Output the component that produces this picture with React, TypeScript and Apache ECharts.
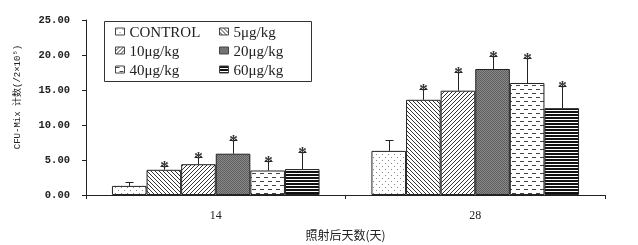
import React, { useEffect, useRef } from "react";
import * as echarts from "echarts";

const categories = ["14", "28"];
const seriesNames = ["CONTROL", "5μg/kg", "10μg/kg", "20μg/kg", "40μg/kg", "60μg/kg"];
const controlValues = [1.3, 6.3];
const dose5Values = [3.6, 13.6];
const dose10Values = [4.4, 14.9];
const dose20Values = [5.9, 18.0];
const dose40Values = [3.5, 16.0];
const dose60Values = [3.7, 12.4];
const controlErr = [0.6, 1.5];
const dose5Err = [0.6, 1.5];
const dose10Err = [1.0, 2.7];
const dose20Err = [2.0, 1.9];
const dose40Err = [1.4, 3.5];
const dose60Err = [2.5, 3.1];
const significant = [false, true, true, true, true, true];
const yTicks = [0, 5, 10, 15, 20, 25];
const yAxisTitle = "CFU-Mix 计数(/2×10⁵)";
const xAxisTitle = "照射后天数(天)";

function makePattern(w: number, h: number, draw: (c: CanvasRenderingContext2D) => void) {
  const cv = document.createElement("canvas");
  cv.width = w;
  cv.height = h;
  const ctx = cv.getContext("2d")!;
  draw(ctx);
  return { image: cv, repeat: "repeat", imageWidth: w, imageHeight: h } as any;
}

export default function App() {
  const ref = useRef<HTMLDivElement>(null);
  useEffect(() => {
    document.body.style.margin = "0";
    document.body.style.overflow = "hidden";
    const chart = echarts.init(ref.current!, null, { renderer: "svg" });

    const patterns = [
      makePattern(6, 6, (c) => {
        c.fillStyle = "#fff";
        c.fillRect(0, 0, 6, 6);
        c.fillStyle = "#888";
        c.fillRect(1, 1, 1, 1);
        c.fillRect(4, 4, 1, 1);
      }),
      makePattern(4, 4, (c) => {
        c.fillStyle = "#fff";
        c.fillRect(0, 0, 4, 4);
        c.fillStyle = "#333";
        for (let i = 0; i < 4; i++) c.fillRect(i, i, 1, 1);
      }),
      makePattern(4, 4, (c) => {
        c.fillStyle = "#fff";
        c.fillRect(0, 0, 4, 4);
        c.fillStyle = "#333";
        for (let i = 0; i < 4; i++) c.fillRect(3 - i, i, 1, 1);
      }),
      makePattern(2, 2, (c) => {
        c.fillStyle = "#8a8a8a";
        c.fillRect(0, 0, 2, 2);
        c.fillStyle = "#5e5e5e";
        c.fillRect(0, 0, 1, 1);
        c.fillRect(1, 1, 1, 1);
      }),
      makePattern(8, 8, (c) => {
        c.fillStyle = "#fff";
        c.fillRect(0, 0, 8, 8);
        c.fillStyle = "#444";
        c.fillRect(0, 1, 4, 1);
        c.fillRect(4, 5, 4, 1);
      }),
      makePattern(1, 3, (c) => {
        c.fillStyle = "#fff";
        c.fillRect(0, 0, 1, 3);
        c.fillStyle = "#111";
        c.fillRect(0, 0, 1, 2);
      }),
    ];

    const values = [controlValues, dose5Values, dose10Values, dose20Values, dose40Values, dose60Values];
    const errs = [controlErr, dose5Err, dose10Err, dose20Err, dose40Err, dose60Err];

    const barSeries = seriesNames.map((name, i) => ({
      name,
      type: "bar",
      data: values[i],
      barGap: "0%",
      barCategoryGap: "20%",
      itemStyle: { color: patterns[i], borderColor: "#222", borderWidth: 1 },
    }));

    const errData: any[] = [];
    values.forEach((vals, si) => {
      vals.forEach((v, ci) => {
        errData.push([ci, v, errs[si][ci], si, significant[si] ? 1 : 0]);
      });
    });

    const errSeries = {
      type: "custom",
      data: errData,
      encode: { x: 0, y: 1 },
      z: 10,
      renderItem: (params: any, api: any) => {
        const ci = api.value(0);
        const v = api.value(1);
        const e = api.value(2);
        const si = api.value(3);
        const star = api.value(4);
        const base = api.coord([ci, v]);
        const top = api.coord([ci, v + e]);
        const bandW = api.size([1, 0])[0];
        const bw = (bandW * 0.8) / 6;
        const x = Math.round(base[0] + (si - 2.5) * bw) + 0.5;
        const ty = Math.round(top[1]) + 0.5;
        const children: any[] = [
          { type: "line", shape: { x1: x, y1: base[1], x2: x, y2: ty }, style: { stroke: "#222", lineWidth: 1 } },
          { type: "line", shape: { x1: x - 4, y1: ty, x2: x + 4, y2: ty }, style: { stroke: "#222", lineWidth: 1 } },
        ];
        if (star) {
          children.push({
            type: "text",
            style: {
              text: "*",
              x,
              y: ty + 8,
              align: "center",
              verticalAlign: "bottom",
              fontSize: 17,
              fontWeight: "bold",
              fontFamily: "Liberation Serif",
              fill: "#333",
            },
          });
        }
        return { type: "group", children };
      },
    };

    const legendCommon = {
      orient: "vertical",
      top: 19,
      itemWidth: 9,
      itemHeight: 7,
      itemGap: 4,
      icon: "rect",
      itemStyle: { borderWidth: 1, borderColor: "#444" },
      textStyle: { fontSize: 15, fontFamily: "Liberation Serif", color: "#222" },
      selectedMode: false,
    };

    chart.setOption({
      animation: false,
      grid: { left: 86, right: 33, top: 20, bottom: 46 },
      legend: [
        { ...legendCommon, left: 110, data: [seriesNames[0], seriesNames[2], seriesNames[4]] },
        { ...legendCommon, left: 214, data: [seriesNames[1], seriesNames[3], seriesNames[5]] },
      ],
      graphic: [
        {
          type: "rect",
          shape: { x: 104.5, y: 21.5, width: 207, height: 60 },
          style: { fill: "none", stroke: "#333", lineWidth: 1 },
          z: 5,
        },
        {
          type: "text",
          x: 18,
          y: 97,
          rotation: Math.PI / 2,
          style: {
            text: yAxisTitle,
            align: "center",
            verticalAlign: "middle",
            fontSize: 9,
            fontFamily: "Liberation Mono, Noto Sans CJK SC",
            fill: "#222",
          },
        },
      ],
      xAxis: {
        type: "category",
        data: categories,
        name: xAxisTitle,
        nameLocation: "middle",
        nameGap: 33,
        nameTextStyle: { fontSize: 12, fontFamily: "Noto Sans CJK SC", color: "#222" },
        axisLine: { lineStyle: { color: "#222", width: 1 } },
        axisTick: { show: true, length: 4, lineStyle: { color: "#222" } },
        axisLabel: { margin: 14, fontSize: 12, fontFamily: "Liberation Serif", color: "#222" },
      },
      yAxis: {
        type: "value",
        min: yTicks[0],
        max: yTicks[yTicks.length - 1],
        interval: 5,
        axisLine: { show: true, lineStyle: { color: "#222", width: 1 } },
        axisTick: { show: true, length: 4, lineStyle: { color: "#222" } },
        splitLine: { show: false },
        axisLabel: {
          margin: 16,
          fontSize: 10.5,
          fontFamily: "Liberation Mono",
          fontWeight: "bold",
          color: "#222",
          formatter: (v: number) => v.toFixed(2),
        },
      },
      series: [...barSeries, errSeries],
    } as any);

    return () => chart.dispose();
  }, []);
  return <div ref={ref} style={{ position: "fixed", left: 0, top: 0, width: 638, height: 245 }} />;
}
